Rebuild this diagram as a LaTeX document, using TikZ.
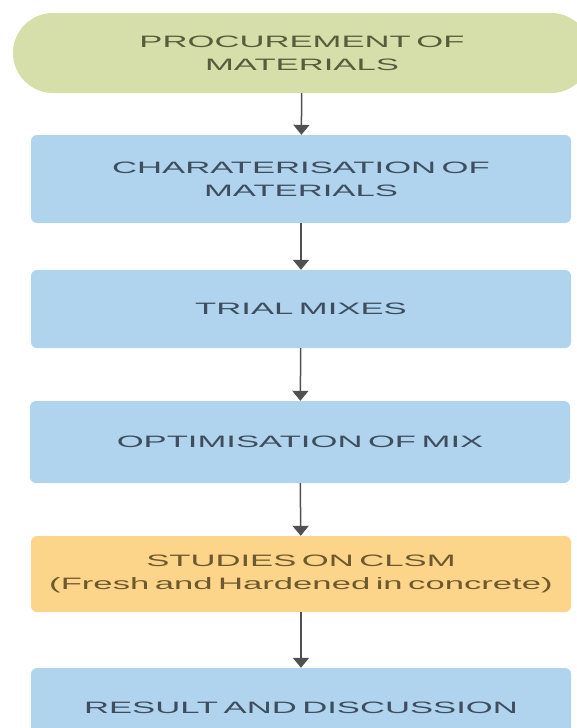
\documentclass[tikz,border=0pt]{standalone}
\usepackage{fontspec}
\newfontfamily\flowfont[FakeStretch=2.1,WordSpace=1.8]{Liberation Sans}
\usetikzlibrary{shapes,arrows.meta,positioning}
\definecolor{pillgreen}{RGB}{214,223,170}
\definecolor{boxblue}{RGB}{176,212,238}
\definecolor{boxorange}{RGB}{253,213,138}
\definecolor{arrowgray}{RGB}{80,80,80}
\definecolor{textblue}{RGB}{62,78,94}
\definecolor{textolive}{RGB}{88,92,60}
\definecolor{textbrown}{RGB}{110,88,45}

\begin{document}
\begin{tikzpicture}[x=1pt,y=-1pt,
	stage/.style={rectangle,rounded corners=6pt,fill=boxblue,text=textblue,minimum width=540pt,text width=540pt,align=center,inner sep=0pt,font=\flowfont\fontsize{16.5}{23}\selectfont},
	flow/.style={-{Triangle[width=16pt,length=10pt]},line width=1.5pt,draw=arrowgray}]
	\useasboundingbox (0,0) rectangle (576,728);
	\node[stage,fill=pillgreen,text=textolive,rounded corners=40pt,minimum width=578pt,minimum height=80pt] (procure) at (302,53) {PROCUREMENT OF\\MATERIALS};
	\node[stage,minimum height=88pt] (charac) at (301,179) {CHARATERISATION OF\\MATERIALS};
	\node[stage,minimum height=78pt] (trial) at (301,309) {TRIAL MIXES};
	\node[stage,minimum height=82pt,minimum width=536pt] (optim) at (300,442) {OPTIMISATION OF MIX};
	\node[stage,fill=boxorange,text=textbrown,minimum height=76pt] (studies) at (301,574) {STUDIES ON CLSM\\(Fresh and Hardened in concrete)};
	\node[stage,minimum height=80pt] (result) at (301,708) {RESULT AND DISCUSSION};
	\draw[flow] (procure) -- (charac);
	\draw[flow] (charac) -- (trial);
	\draw[flow] (trial) -- (optim);
	\draw[flow] (optim) -- (studies);
	\draw[flow] (studies) -- (result);
\end{tikzpicture}
\end{document}
